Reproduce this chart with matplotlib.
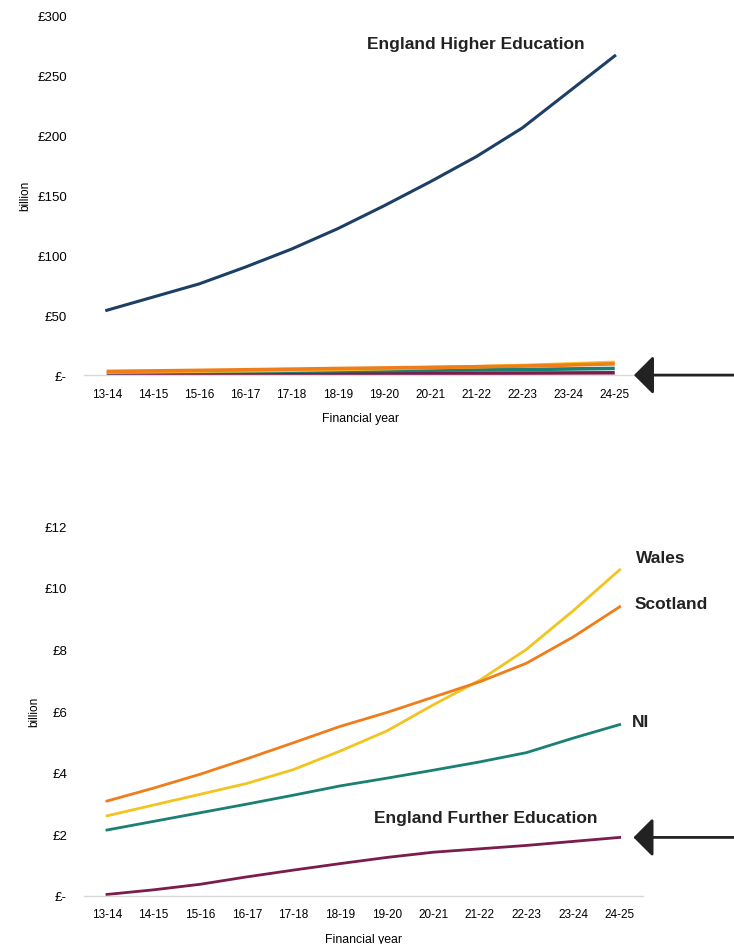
import matplotlib
matplotlib.use("Agg")
import matplotlib.pyplot as plt

plt.rcParams['font.family'] = ['Liberation Sans', 'DejaVu Sans']

# financial years on the x axis
years = ["13-14", "14-15", "15-16", "16-17", "17-18", "18-19",
         "19-20", "20-21", "21-22", "22-23", "23-24", "24-25"]

# outstanding student loan balances, £ billion
england_he = [54, 65, 76, 90, 105, 122, 141, 161, 182, 206, 236, 266]
scotland = [3.08, 3.5, 3.95, 4.45, 4.97, 5.5, 5.95, 6.45, 6.95, 7.55, 8.4, 9.38]
wales = [2.6, 2.95, 3.3, 3.65, 4.1, 4.7, 5.35, 6.2, 7.0, 8.0, 9.25, 10.58]
ni = [2.14, 2.42, 2.7, 2.98, 3.27, 3.57, 3.82, 4.08, 4.35, 4.65, 5.12, 5.56]
england_fe = [0.05, 0.2, 0.38, 0.62, 0.84, 1.05, 1.25, 1.42, 1.53, 1.64, 1.77, 1.9]

top_ticks = [0, 50, 100, 150, 200, 250, 300]
top_labels = ["£-", "£50", "£100", "£150", "£200", "£250", "£300"]
bottom_ticks = [0, 2, 4, 6, 8, 10, 12]
bottom_labels = ["£-", "£2", "£4", "£6", "£8", "£10", "£12"]

NAVY = "#1d3f66"
ORANGE = "#ef7d1b"
YELLOW = "#f2c420"
TEAL = "#1b8074"
PURPLE = "#7a1c4c"

small_series = [(england_fe, PURPLE), (ni, TEAL), (wales, YELLOW), (scotland, ORANGE)]


def style_axes(ax, ticks, labels, label_x):
    for side in ["top", "right", "left"]:
        ax.spines[side].set_visible(False)
    ax.spines["bottom"].set_color("#d9d9d9")
    ax.spines["bottom"].set_linewidth(1.0)
    ax.set_xlim(-0.5, len(years) - 0.5)
    ax.set_xticks(range(len(years)))
    ax.set_xticklabels(years, fontsize=8.5)
    ax.set_yticks(ticks)
    ax.set_yticklabels(labels, fontsize=9.5)
    ax.set_ylim(ticks[0], ticks[-1])
    ax.tick_params(axis="both", length=0)
    ax.tick_params(axis="y", pad=12)
    ax.tick_params(axis="x", pad=9)
    ax.set_xlabel("Financial year", fontsize=8.8, labelpad=9)
    ax.set_ylabel("billion", fontsize=8.5)
    ax.yaxis.set_label_coords(label_x, 0.5)


def add_arrow(ax, x_frac, y_val):
    ax.annotate("", xy=(x_frac, y_val), xycoords=("axes fraction", "data"),
                xytext=(1.0, y_val), textcoords=("figure fraction", "data"),
                arrowprops=dict(arrowstyle="-|>,head_length=1.2,head_width=1.2",
                                mutation_scale=10, lw=2, color="#222222",
                                shrinkA=0, shrinkB=0),
                annotation_clip=False)


fig = plt.figure(figsize=(7.34, 9.45), dpi=100)

# top panel: everything, England HE dominates
ax1 = fig.add_axes([0.114, 0.602, 0.755, 0.381])
for vals, col in small_series:
    ax1.plot(range(len(years)), vals, color=col, lw=2.6, solid_capstyle="butt")
ax1.plot(range(len(years)), england_he, color=NAVY, lw=2.2)
style_axes(ax1, top_ticks, top_labels, -0.094)
ax1.text(8.0, 276, "England Higher Education", fontsize=12.5, fontweight="bold",
         color="#222222", ha="center", va="center")
add_arrow(ax1, 0.993, 0)

# bottom panel: the smaller schemes
ax2 = fig.add_axes([0.114, 0.0508, 0.762, 0.3915])
ax2.plot(range(len(years)), england_fe, color=PURPLE, lw=2)
ax2.plot(range(len(years)), ni, color=TEAL, lw=2)
ax2.plot(range(len(years)), wales, color=YELLOW, lw=2)
ax2.plot(range(len(years)), scotland, color=ORANGE, lw=2)
style_axes(ax2, bottom_ticks, bottom_labels, -0.077)

ax2.text(11.35, 10.97, "Wales", fontsize=12.5, fontweight="bold", color="#222222", va="center")
ax2.text(11.31, 9.48, "Scotland", fontsize=12.5, fontweight="bold", color="#222222", va="center")
ax2.text(11.27, 5.65, "NI", fontsize=12.5, fontweight="bold", color="#222222", va="center")
ax2.text(8.13, 2.56, "England Further Education", fontsize=12.5, fontweight="bold",
         color="#222222", ha="center", va="center")
add_arrow(ax2, 0.983, england_fe[-1])

fig.savefig("out.png", dpi=100)
